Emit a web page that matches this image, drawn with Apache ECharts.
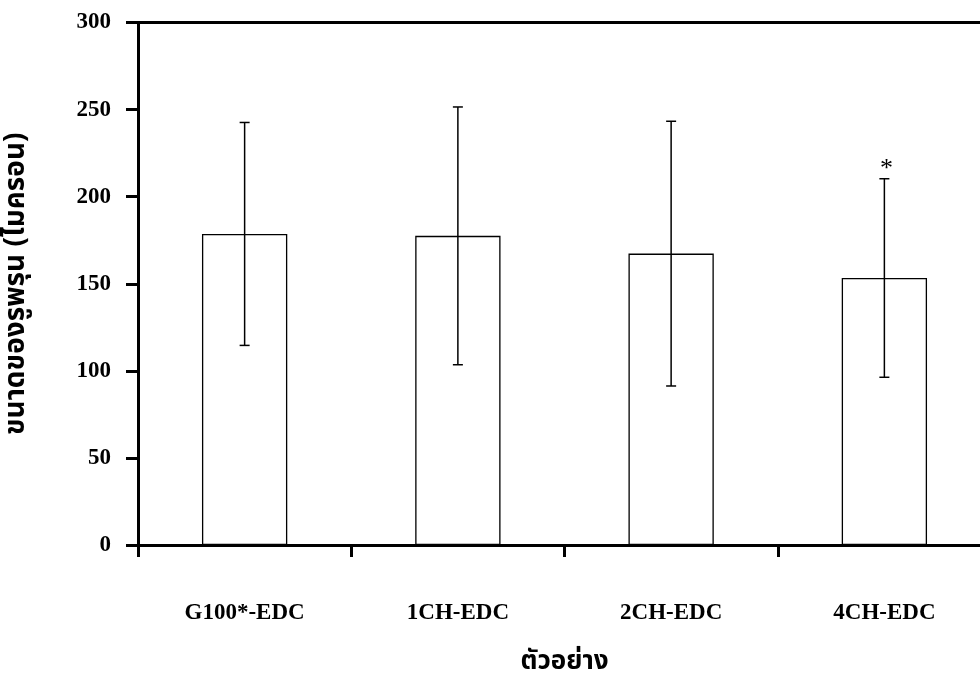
<!DOCTYPE html>
<html>
<head>
<meta charset="utf-8">
<script src="https://cdn.jsdelivr.net/npm/echarts@6/dist/echarts.min.js"></script>
<style>
  html, body { margin: 0; padding: 0; background: #fff; }
  #chart { width: 980px; height: 679px; }
</style>
</head>
<body>
<div id="chart"></div>
<script>
// Pore size of each sample (mean and standard deviation, micron)
const categories = ['G100*-EDC', '1CH-EDC', '2CH-EDC', '4CH-EDC'];
const meanSize = [178.6, 177.5, 167.3, 153.3];
const sdSize = [64, 74, 76, 57];
const marks = ['', '', '', '*'];
const yTicks = [0, 50, 100, 150, 200, 250, 300];

const chart = echarts.init(document.getElementById('chart'));

const serif = '"Liberation Serif", "Times New Roman", serif';
const thai = '"Noto Sans Thai", "Noto Sans", "DejaVu Sans", sans-serif';

const errorData = meanSize.map((m, i) => [i, m - sdSize[i], m + sdSize[i], marks[i]]);

chart.setOption({
  animation: false,
  backgroundColor: '#fff',
  grid: {
    left: 138, top: 22.5, bottom: 134, right: -11,
    containLabel: false, outerBoundsMode: 'none'
  },
  xAxis: [
    {
      type: 'category',
      data: categories,
      position: 'bottom',
      axisLine: { lineStyle: { color: '#000', width: 3 } },
      axisTick: { show: true, length: 12, lineStyle: { color: '#000', width: 3 } },
      axisLabel: { margin: 57, color: '#000', fontFamily: serif, fontWeight: 'bold', fontSize: 23 },
      name: 'ตัวอย่าง',
      nameLocation: 'middle',
      nameGap: 106,
      nameTextStyle: { color: '#000', fontFamily: thai, fontWeight: 'bold', fontSize: 26 }
    },
    {
      // upper frame line
      type: 'category',
      data: categories,
      position: 'top',
      axisLine: { lineStyle: { color: '#000', width: 3 } },
      axisTick: { show: false },
      axisLabel: { show: false }
    }
  ],
  yAxis: {
    type: 'value',
    min: yTicks[0],
    max: yTicks[yTicks.length - 1],
    interval: 50,
    splitLine: { show: false },
    axisLine: { show: true, lineStyle: { color: '#000', width: 3 } },
    axisTick: { show: true, length: 12, lineStyle: { color: '#000', width: 3 } },
    axisLabel: { margin: 27, color: '#000', fontFamily: serif, fontWeight: 'bold', fontSize: 23 },
    name: 'ขนาดของรูพรุน (ไมครอน)',
    nameLocation: 'middle',
    nameRotate: 90,
    nameGap: 106,
    nameTextStyle: { color: '#000', fontFamily: thai, fontWeight: 'bold', fontSize: 28 }
  },
  series: [
    {
      type: 'bar',
      data: meanSize,
      barWidth: '40%',
      itemStyle: { color: '#fff', borderColor: '#000', borderWidth: 1.3 },
      z: 2
    },
    {
      type: 'custom',
      data: errorData,
      z: 3,
      renderItem: function (params, api) {
        const i = api.value(0);
        const lo = api.coord([i, api.value(1)]);
        const hi = api.coord([i, api.value(2)]);
        const cap = 5;
        const style = { stroke: '#000', lineWidth: 1.5, fill: null };
        const children = [
          { type: 'line', shape: { x1: hi[0], y1: hi[1], x2: lo[0], y2: lo[1] }, style: style },
          { type: 'line', shape: { x1: hi[0] - cap, y1: hi[1], x2: hi[0] + cap, y2: hi[1] }, style: style },
          { type: 'line', shape: { x1: lo[0] - cap, y1: lo[1], x2: lo[0] + cap, y2: lo[1] }, style: style }
        ];
        const mark = errorData[params.dataIndex][3];
        if (mark) {
          children.push({
            type: 'text',
            style: {
              text: mark, x: hi[0] + 2, y: hi[1] + 3,
              textAlign: 'center', textVerticalAlign: 'bottom',
              fill: '#000', font: '26px ' + serif
            }
          });
        }
        return { type: 'group', children: children };
      }
    }
  ]
});
</script>
</body>
</html>
